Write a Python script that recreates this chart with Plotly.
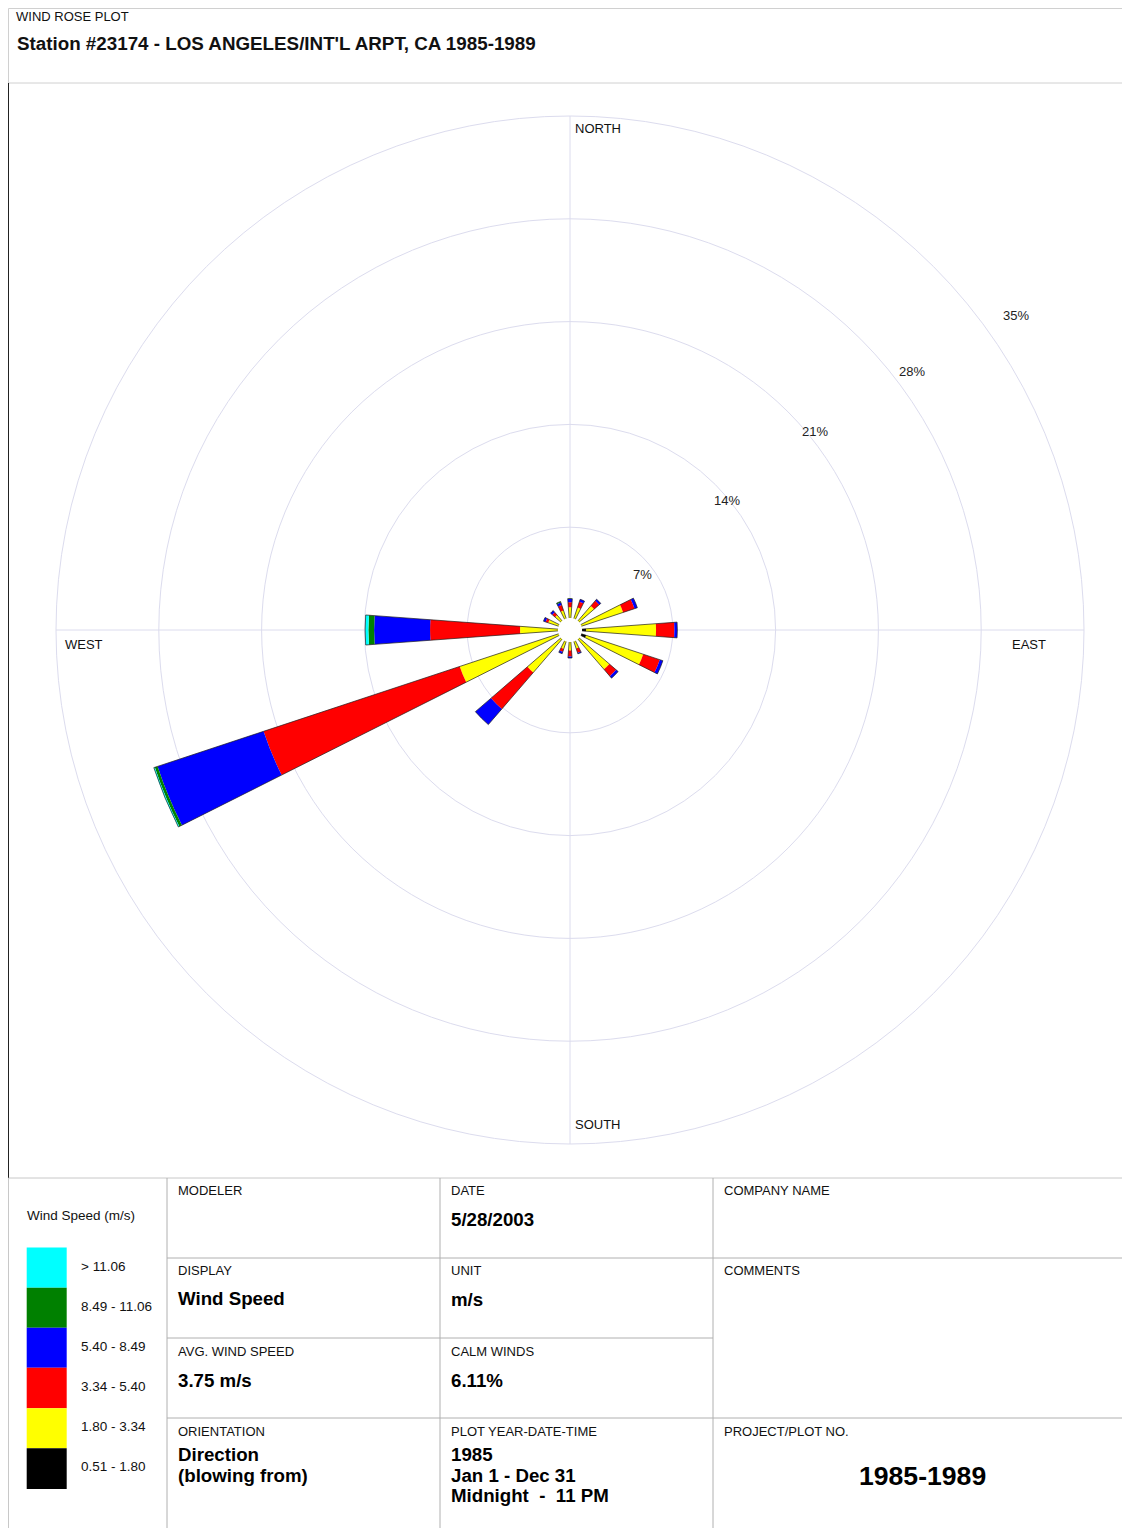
import plotly.graph_objects as go

W, H = 1130, 1528          # browser window
OFF = 8                    # default page body margin
FW, FH = W - OFF, H - OFF  # figure size so it ends exactly at the window edge
FONT = "Arial, Liberation Sans, Helvetica, sans-serif"

# ---------------- data ----------------
directions = ["N", "NNE", "NE", "ENE", "E", "ESE", "SE", "SSE",
              "S", "SSW", "SW", "WSW", "W", "WNW", "NW", "NNW"]
direction_deg = [0, 22.5, 45, 67.5, 90, 112.5, 135, 157.5,
                 180, 202.5, 225, 247.5, 270, 292.5, 315, 337.5]

speed_labels = ["0.51 - 1.80", "1.80 - 3.34", "3.34 - 5.40",
                "5.40 - 8.49", "8.49 - 11.06", "> 11.06"]
speed_colors = ["#000000", "#FFFF00", "#FF0000", "#0000FF", "#008000", "#00FFFF"]

# frequency (%) of each wind-speed class per direction (N .. NNW)
freq_051_180 = [0, 0, 0, 0, 1.09, 1.16, 0, 0, 0, 0, 0, 0, 0, 0, 0, 0]
freq_180_334 = [1.55, 1.61, 2.17, 3.81, 4.77, 4.09, 3.54, 1.33,
                1.40, 1.36, 3.83, 7.91, 3.40, 1.56, 1.34, 1.40]
freq_334_540 = [0.34, 0.42, 0.46, 0.82, 1.25, 1.19, 0.61, 0.31,
                0.41, 0.20, 3.27, 14.07, 6.13, 0.18, 0.25, 0.39]
freq_540_849 = [0.22, 0.17, 0.14, 0.20, 0.20, 0.22, 0.18, 0.07,
                0.10, 0.14, 1.41, 7.60, 3.81, 0.16, 0.16, 0.18]
freq_849_1106 = [0.03, 0, 0, 0, 0, 0, 0, 0,
                 0, 0, 0, 0.20, 0.39, 0, 0, 0.07]
freq_gt_1106 = [0, 0, 0, 0, 0, 0, 0, 0,
                0, 0, 0, 0.07, 0.22, 0, 0, 0]

radial_ticks = [7, 14, 21, 28, 35]
radial_tick_text = ["7%", "14%", "21%", "28%", "35%"]

# ---------------- style / layout constants ----------------
BAR_WIDTH_DEG = 8.4
CALM_CIRCLE_R = 0.82          # radius of the white centre circle (radial units)
CX, CY, R = 570, 630, 514     # polar centre / radius in page pixels
GRID = "#dcdcee"
TXT_DX = -1.5                 # compensates annotation padding

def px(x):
    return (x - OFF) / FW

def py(y):
    return 1 - (y - OFF) / FH

fig = go.Figure()

classes = [freq_051_180, freq_180_334, freq_334_540,
           freq_540_849, freq_849_1106, freq_gt_1106]
cum = [0.0] * len(directions)
for vals, col, lab in zip(classes, speed_colors, speed_labels):
    fig.add_trace(go.Barpolar(
        r=vals, base=list(cum), theta=direction_deg, width=BAR_WIDTH_DEG,
        marker=dict(color=col, line=dict(width=0)), name=lab,
        hoverinfo="skip"))
    cum = [c + v for c, v in zip(cum, vals)]

# thin dark outline of each whole wedge
fig.add_trace(go.Barpolar(
    r=cum, base=[0] * len(cum), theta=direction_deg, width=BAR_WIDTH_DEG,
    marker=dict(color="rgba(0,0,0,0)", line=dict(color="#1e1e1e", width=0.7)),
    hoverinfo="skip", showlegend=False))

# white centre (calm) circle
circ_theta = list(range(0, 361, 3))
fig.add_trace(go.Scatterpolar(
    r=[CALM_CIRCLE_R] * len(circ_theta), theta=circ_theta, mode="lines",
    fill="toself", fillcolor="white", line=dict(color="white", width=0),
    hoverinfo="skip", showlegend=False))

fig.update_layout(
    width=FW, height=FH, margin=dict(l=0, r=0, t=0, b=0),
    paper_bgcolor="white", plot_bgcolor="white", showlegend=False,
    polar=dict(
        domain=dict(x=[px(CX - R), px(CX + R)], y=[py(CY + R), py(CY - R)]),
        bgcolor="white", barmode="overlay",
        radialaxis=dict(range=[0, 35], tickvals=radial_ticks, showticklabels=False,
                        ticks="", showline=False, gridcolor=GRID, gridwidth=1),
        angularaxis=dict(rotation=90, direction="clockwise",
                         tickvals=[0, 90, 180, 270], showticklabels=False, ticks="",
                         gridcolor=GRID, gridwidth=1, showline=True,
                         linecolor=GRID, linewidth=1),
    ),
)

ann = []
def txt(x, y, s, size=13, bold=False, xanchor="left", color="#111111"):
    if xanchor == "left":
        x = x + TXT_DX
    ann.append(dict(x=px(x), y=py(y), xref="paper", yref="paper",
                    text=f"<b>{s}</b>" if bold else s, showarrow=False,
                    xanchor=xanchor, yanchor="middle",
                    font=dict(size=size, color=color, family=FONT)))

# compass labels (inside the rose)
txt(574, 128, "NORTH")
txt(1011, 644, "EAST")
txt(64, 644, "WEST")
txt(574, 1124, "SOUTH")

# ring labels
ring_label_px = [(642, 574), (727, 500), (815, 432), (912, 371), (1016, 316)]
for (lx, ly), t in zip(ring_label_px, radial_tick_text):
    txt(lx, ly, t, xanchor="center", color="#222222")

# header
txt(15, 16, "WIND ROSE PLOT", size=13)
txt(16, 44, "Station #23174 - LOS ANGELES/INT'L ARPT, CA 1985-1989", size=18.8, bold=True)

# legend
txt(26, 1215.5, "Wind Speed (m/s)", size=13.5)
box_top = [1247.5, 1287.7, 1327.7, 1367.7, 1408.2, 1448.3]
box_bot = [1287.7, 1327.7, 1367.7, 1408.2, 1448.3, 1489]
leg_order = list(range(len(speed_labels)))[::-1]   # cyan at top ... black at bottom
shapes = []
for i, k in enumerate(leg_order):
    shapes.append(dict(type="rect", xref="paper", yref="paper",
                       x0=px(26.7), x1=px(66.7), y0=py(box_bot[i]), y1=py(box_top[i]),
                       fillcolor=speed_colors[k], line=dict(width=0)))
    txt(80, box_top[i] + 18.5, speed_labels[k], size=13.5)

# info table
VS = 18.7
txt(177, 1190.7, "MODELER")
txt(177, 1270, "DISPLAY")
txt(177, 1298.5, "Wind Speed", size=VS, bold=True, color="#000")
txt(177, 1351.7, "AVG. WIND SPEED")
txt(177, 1380, "3.75 m/s", size=VS, bold=True, color="#000")
txt(177, 1431.7, "ORIENTATION")
txt(177, 1454, "Direction", size=VS, bold=True, color="#000")
txt(177, 1475, "(blowing from)", size=VS, bold=True, color="#000")

txt(450, 1190.7, "DATE")
txt(450, 1219.3, "5/28/2003", size=VS, bold=True, color="#000")
txt(450, 1270, "UNIT")
txt(450, 1299, "m/s", size=VS, bold=True, color="#000")
txt(450, 1351.7, "CALM WINDS")
txt(450, 1380, "6.11%", size=VS, bold=True, color="#000")
txt(450, 1431.7, "PLOT YEAR-DATE-TIME")
txt(450, 1454, "1985", size=VS, bold=True, color="#000")
txt(450, 1475, "Jan 1 - Dec 31", size=VS, bold=True, color="#000")
txt(450, 1495, "Midnight\u00a0\u00a0-\u00a0\u00a011 PM", size=VS, bold=True, color="#000")

txt(723, 1190.7, "COMPANY NAME")
txt(723, 1270, "COMMENTS")
txt(723, 1431.7, "PROJECT/PLOT NO.")
txt(922, 1476, "1985-1989", size=26.6, bold=True, xanchor="center", color="#000")

def line(x0, y0, x1, y1, color="#b9b9b9", width=1):
    shapes.append(dict(type="line", xref="paper", yref="paper",
                       x0=px(x0), y0=py(y0), x1=px(x1), y1=py(y1),
                       line=dict(color=color, width=width)))

# header frame
line(8.5, 8.5, 1130, 8.5, "#d0d0d0")
line(8.5, 8.5, 8.5, 83, "#d0d0d0")
line(8.5, 83, 1130, 83, "#d0d0d0")
# dark left border of the rose area
line(8.5, 83, 8.5, 1178, "#222222")
# bottom table frame
line(8.5, 1178, 1130, 1178, "#c8c8c8")
line(8.5, 1178, 8.5, 1528, "#c8c8c8")
line(167, 1178, 167, 1528, "#b0b0b0")
line(440, 1178, 440, 1528, "#b0b0b0")
line(713, 1178, 713, 1528, "#b0b0b0")
line(167, 1258, 1130, 1258, "#b0b0b0")
line(167, 1338, 713, 1338, "#b0b0b0")
line(167, 1418, 1130, 1418, "#b0b0b0")

fig.update_layout(annotations=ann, shapes=shapes)
fig.write_html("out.html")
